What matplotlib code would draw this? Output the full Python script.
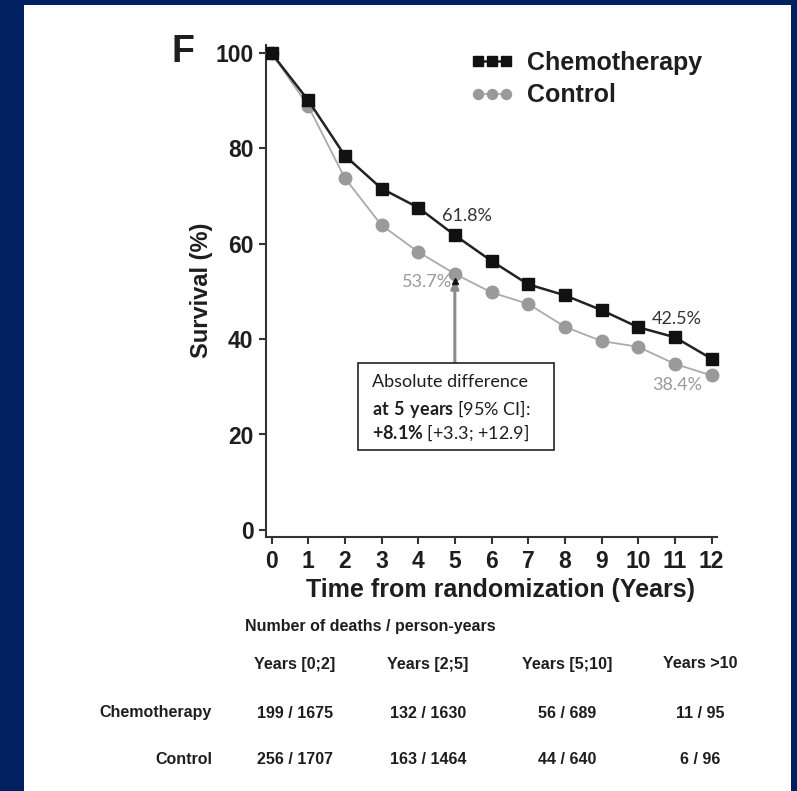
import matplotlib
matplotlib.use("Agg")
import matplotlib.pyplot as plt
from matplotlib.patches import Rectangle
import numpy as np

# survival curves
years = np.arange(0, 13)
chemo = [100, 90.1, 78.5, 71.6, 67.6, 61.8, 56.4, 51.5, 49.2, 46.1, 42.5, 40.4, 35.9]
control = [100, 88.9, 73.8, 63.9, 58.3, 53.7, 49.8, 47.4, 42.6, 39.6, 38.4, 34.8, 32.4]

label_chemo = "Chemotherapy"
label_ctrl = "Control"

# table below the plot
periods = ["Years [0;2]", "Years [2;5]", "Years [5;10]", "Years >10"]
deaths_chemo = ["199 / 1675", "132 / 1630", "56 / 689", "11 / 95"]
deaths_ctrl = ["256 / 1707", "163 / 1464", "44 / 640", "6 / 96"]

W, H = 797, 791
navy = "#002060"
dark = "#1e1e1e"
grey = "#9a9a9a"

plt.rcParams["font.family"] = ["Liberation Sans", "DejaVu Sans"]
plt.rcParams["mathtext.fontset"] = "custom"
plt.rcParams["mathtext.rm"] = "Lato"
plt.rcParams["mathtext.bf"] = "Lato:bold"

fig = plt.figure(figsize=(W / 100, H / 100), dpi=100, facecolor=navy)
fig.patches.append(Rectangle((24 / W, 0), (791 - 24) / W, (H - 5) / H,
                             transform=fig.transFigure, facecolor="white",
                             edgecolor="none", zorder=-10))

def px(x, y):
    return x / W, 1 - y / H

ax = fig.add_axes([266 / W, (H - 537) / H, 451 / W, 492 / H])
ax.set_facecolor("none")

ax.plot(years, control, color="#aaaaaa", lw=1.3, marker="o", ms=9,
        mfc=grey, mec=grey, label=label_ctrl, zorder=3, clip_on=False)
ax.plot(years, chemo, color="#222222", lw=1.8, marker="s", ms=8.5,
        mfc="#111111", mec="#111111", label=label_chemo, zorder=4,
        clip_on=False)

ax.set_xlim(-0.15, 12.15)
ax.set_ylim(-1.5, 101.7)
ax.set_xticks(years)
ax.set_yticks([0, 20, 40, 60, 80, 100])
for s in ["top", "right"]:
    ax.spines[s].set_visible(False)
for s in ["left", "bottom"]:
    ax.spines[s].set_linewidth(1.5)
    ax.spines[s].set_color("#333333")
ax.tick_params(direction="out", length=5, width=1.5, color="#333333",
               labelsize=16.5, labelcolor=dark, pad=4)
for lab in ax.get_xticklabels() + ax.get_yticklabels():
    lab.set_fontweight("bold")

ax.set_xlabel("Time from randomization (Years)", fontsize=18,
              fontweight="bold", color=dark)
ax.set_ylabel("Survival (%)", fontsize=17, fontweight="bold", color=dark)
ax.xaxis.set_label_coords(0.519, -0.083)
ax.yaxis.set_label_coords(-0.118, 0.502)

# legend
handles, labels = ax.get_legend_handles_labels()
leg = ax.legend(handles[::-1], labels[::-1], loc="upper left",
                bbox_to_anchor=px(470, 51), bbox_transform=fig.transFigure,
                frameon=False, borderaxespad=0, borderpad=0, numpoints=3,
                handlelength=1.75, handletextpad=0.55, labelspacing=0.33,
                markerscale=0.8, prop={"weight": "bold", "size": 18})
for t in leg.get_texts():
    t.set_color(dark)

# value labels
lab_font = dict(family="Lato", fontsize=13)
ax.text(years[5] - 0.35, chemo[5] + 4.0, f"{chemo[5]:.1f}%", color="#333333",
        ha="left", va="center", **lab_font)
ax.text(years[5] - 0.08, control[5] - 1.7, f"{control[5]:.1f}%", color=grey,
        ha="right", va="center", **lab_font)
ax.text(years[10] + 0.38, chemo[10] + 1.8, f"{chemo[10]:.1f}%", color="#333333",
        ha="left", va="center", **lab_font)
ax.text(years[10] + 0.38, control[10] - 8.0, f"{control[10]:.1f}%", color=grey,
        ha="left", va="center", **lab_font)

# absolute difference box + arrow
diff = chemo[5] - control[5]
ax.annotate("", xy=(years[5], control[5] - 1.2), xytext=(years[5], 35.0),
            arrowprops=dict(arrowstyle="-|>,head_length=0.5,head_width=0.22",
                            color="#8a8a8a", lw=2.2, shrinkA=0, shrinkB=0),
            zorder=2)
ax.plot([years[5]], [control[5] - 1.6], marker="^", ms=5, color="#111111",
        zorder=5)
ax.add_patch(Rectangle((2.36, 16.8), 7.71 - 2.36, 35.0 - 16.8,
                       facecolor="white", edgecolor="#222222", lw=1.2,
                       zorder=6))
box_font = dict(family="Lato", fontsize=13, color=dark, ha="left",
                va="center", zorder=7)
ax.text(2.75, 31.0, "Absolute difference", **box_font)
ax.text(2.75, 25.3, r"$\mathbf{at\ 5\ years}$ [95% CI]:", **box_font)
ax.text(2.75, 20.3, r"$\mathbf{+%.1f\%%}$ [+3.3; +12.9]" % diff, **box_font)

# panel letter
fig.text(*px(172, 52), "F", fontsize=27, fontweight="bold", color=dark,
         ha="left", va="center")

# table
tbl = dict(fontsize=11.5, fontweight="bold", color=dark, va="center")
fig.text(*px(370, 627), "Number of deaths / person-years", ha="center", **tbl)
col_x = [295, 428, 567, 700]
for cx, p, a, b in zip(col_x, periods, deaths_chemo, deaths_ctrl):
    fig.text(*px(cx, 664), p, ha="center", **tbl)
    fig.text(*px(cx, 713), a, ha="center", **tbl)
    fig.text(*px(cx, 760), b, ha="center", **tbl)
fig.text(*px(212, 713), label_chemo, ha="right", **tbl)
fig.text(*px(212, 760), label_ctrl, ha="right", **tbl)

fig.savefig("out.png", dpi=100, facecolor=navy)
